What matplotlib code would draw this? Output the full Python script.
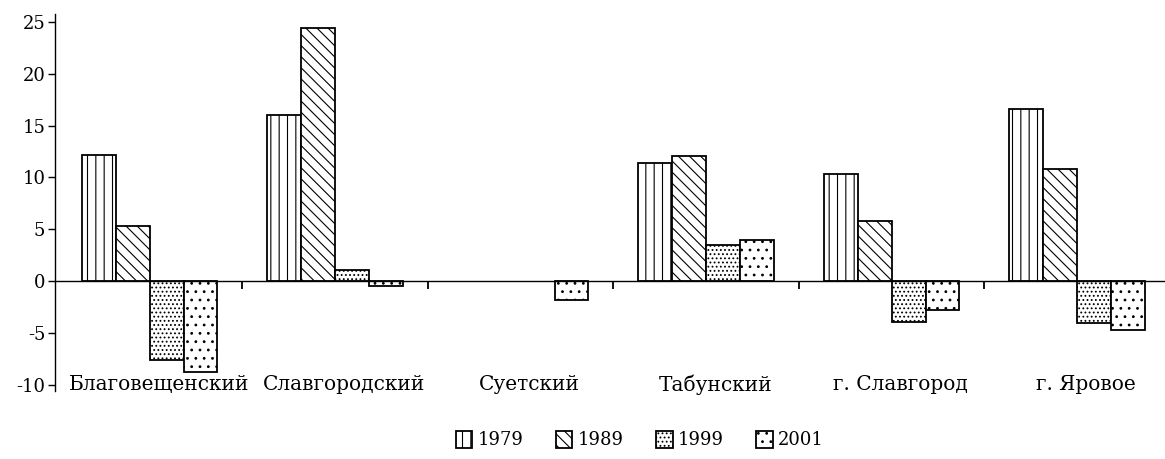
import matplotlib.pyplot as plt
import numpy as np

plt.rcParams["font.family"] = ["DejaVu Serif"]
plt.rcParams["axes.unicode_minus"] = False
plt.rcParams["hatch.linewidth"] = 0.8

districts = ["Благовещенский", "Славгородский", "Суетский",
             "Табунский", "г. Славгород", "г. Яровое"]
years = ["1979", "1989", "1999", "2001"]

v1979 = [12.2, 16.0, 0.0, 11.4, 10.3, 16.6]
v1989 = [5.3, 24.4, 0.0, 12.1, 5.8, 10.8]
v1999 = [-7.6, 1.1, 0.0, 3.5, -4.0, -4.1]
v2001 = [-8.8, -0.5, -1.8, 4.0, -2.8, -4.7]

series = [v1979, v1989, v1999, v2001]
hatches = ["||", "\\\\\\", "....", ".."]

fig = plt.figure(figsize=(11.65, 4.59), dpi=100)
ax = fig.add_axes([0.0472, 0.1486, 0.9528, 0.8216])

x = np.arange(len(districts))
w = 0.183
for k, (vals, h, yr) in enumerate(zip(series, hatches, years)):
    vals = np.array(vals)
    # zero-height bars would just thicken the axis line, so no edge for them
    lw = np.where(vals == 0, 0, 1.3)
    ax.bar(x + (k - 1.5) * w, vals, width=w, facecolor="white",
           edgecolor="black", linewidth=lw, hatch=h, label=yr)

ax.set_xlim(-0.51, 5.474)
ax.set_ylim(-10.6, 25.8)
ax.set_yticks([-10, -5, 0, 5, 10, 15, 20, 25])
ax.tick_params(axis="y", direction="out", length=5, width=1, labelsize=13, pad=2)

# category boundary ticks on the zero line
ax.set_xticks(x[:-1] + 0.5)
ax.set_xticklabels([])
ax.tick_params(axis="x", direction="out", length=6, width=1.3)

ax.spines["top"].set_visible(False)
ax.spines["right"].set_visible(False)
ax.spines["bottom"].set_position(("data", 0))
ax.spines["left"].set_linewidth(1)
ax.spines["bottom"].set_linewidth(1)

for i, name in enumerate(districts):
    ax.text(i + 0.05, -10, name, ha="center", va="center", fontsize=14.5)

fig.legend(loc="center", bbox_to_anchor=(640 / 1165, 1 - 440 / 459), ncol=4,
           frameon=False, fontsize=13, handlelength=0.9, handleheight=1.1,
           handletextpad=0.3, columnspacing=1.8)

fig.savefig("out.png", dpi=100)
